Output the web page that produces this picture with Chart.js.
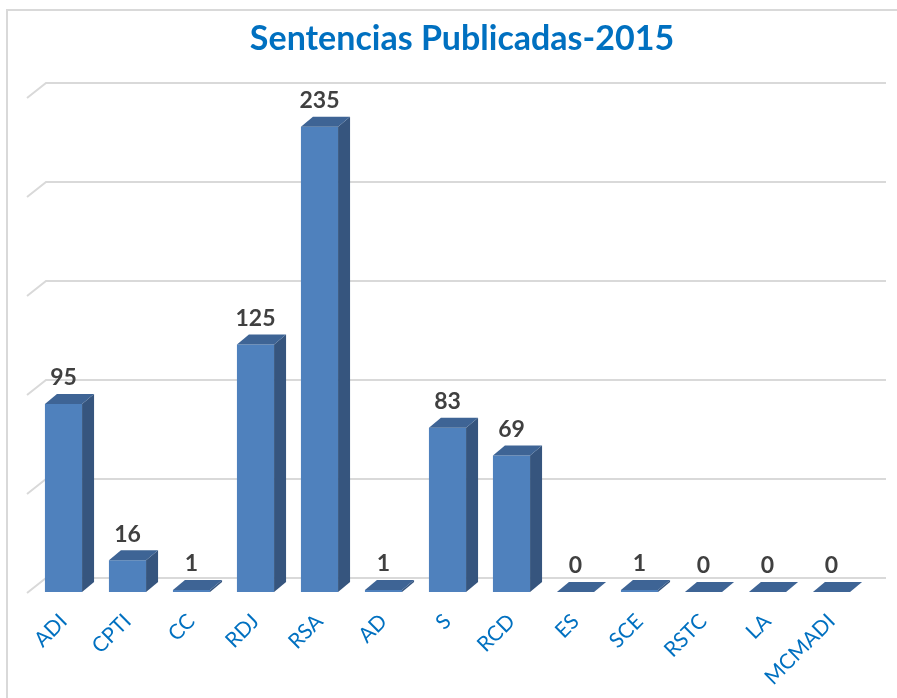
<!DOCTYPE html>
<html>
<head>
<meta charset="utf-8">
<script src="https://cdn.jsdelivr.net/npm/chart.js@4/dist/chart.umd.min.js"></script>
<style>
  html, body { margin: 0; padding: 0; background: #fff; }
  #wrap { width: 897px; height: 698px; }
</style>
</head>
<body>
<div id="wrap"><canvas id="chart" width="897" height="698"></canvas></div>
<script>
// Data
const categories = ['ADI', 'CPTI', 'CC', 'RDJ', 'RSA', 'AD', 'S', 'RCD', 'ES', 'SCE', 'RSTC', 'LA', 'MCMADI'];
const sentencias = [95, 16, 1, 125, 235, 1, 83, 69, 0, 1, 0, 0, 0];
const gridValues = [0, 50, 100, 150, 200, 250];
const chartTitle = 'Sentencias Publicadas-2015';

const frontColor = '#4F81BD';
const sideColor = '#36557E';
const topColor = '#3E6495';
const gridColor = '#D9D9D9';

// depth of the bars and of the floor
const barDx = 12, barDy = -10;
const floorDx = 19, floorDy = -14;

// Frame, title, back wall grid, 3D faces and value labels
const bars3d = {
    id: 'bars3d',
    beforeDraw(chart) {
        const ctx = chart.ctx;
        ctx.save();
        ctx.strokeStyle = gridColor;
        ctx.lineWidth = 2;
        ctx.beginPath();
        ctx.moveTo(7, 698);
        ctx.lineTo(7, 10);
        ctx.lineTo(897, 10);
        ctx.stroke();
        // title sits a bit right of centre, over the back wall
        ctx.fillStyle = '#0070C0';
        ctx.font = 'bold 34px Lato';
        ctx.textAlign = 'center';
        ctx.textBaseline = 'middle';
        ctx.fillText(chartTitle, 462, 39);
        ctx.restore();
    },
    beforeDatasetsDraw(chart) {
        const ctx = chart.ctx;
        const y = chart.scales.y;
        ctx.save();
        ctx.strokeStyle = gridColor;
        ctx.lineWidth = 2;
        gridValues.forEach(v => {
            const py = y.getPixelForValue(v);
            ctx.beginPath();
            ctx.moveTo(27, py + 1);
            ctx.lineTo(27 + floorDx, py + floorDy);
            ctx.lineTo(886, py + floorDy);
            ctx.stroke();
        });
        ctx.restore();
    },
    afterDatasetsDraw(chart) {
        const ctx = chart.ctx;
        const meta = chart.getDatasetMeta(0);
        ctx.save();
        meta.data.forEach((bar, i) => {
            const left = bar.x - bar.width / 2;
            const right = bar.x + bar.width / 2;
            const top = bar.y;
            const base = bar.base;
            // side face
            ctx.fillStyle = sideColor;
            ctx.beginPath();
            ctx.moveTo(right, top);
            ctx.lineTo(right + barDx, top + barDy);
            ctx.lineTo(right + barDx, base + barDy);
            ctx.lineTo(right, base);
            ctx.closePath();
            ctx.fill();
            // top face
            ctx.fillStyle = topColor;
            ctx.beginPath();
            ctx.moveTo(left, top);
            ctx.lineTo(left + barDx, top + barDy);
            ctx.lineTo(right + barDx, top + barDy);
            ctx.lineTo(right, top);
            ctx.closePath();
            ctx.fill();
            // value label
            ctx.fillStyle = '#404040';
            ctx.font = 'bold 23px Lato';
            ctx.textAlign = 'center';
            ctx.textBaseline = 'middle';
            ctx.fillText(String(sentencias[i]), bar.x, top - 26);
        });
        ctx.restore();
    }
};

const ctx = document.getElementById('chart').getContext('2d');
new Chart(ctx, {
    type: 'bar',
    data: {
        labels: categories,
        datasets: [{
            label: 'Sentencias',
            data: sentencias,
            backgroundColor: frontColor,
            borderWidth: 0,
            barPercentage: 0.58,
            categoryPercentage: 1
        }]
    },
    options: {
        responsive: false,
        animation: false,
        layout: {
            padding: { left: 31.5, right: 33.5, top: 97, bottom: 0 }
        },
        plugins: {
            legend: { display: false },
            tooltip: { enabled: false },
            title: { display: false }
        },
        scales: {
            x: {
                offset: true,
                grid: { display: false, drawTicks: false },
                border: { display: false },
                ticks: {
                    color: '#0070C0',
                    font: { family: 'Lato', size: 21 },
                    autoSkip: false,
                    maxRotation: 45,
                    minRotation: 45,
                    padding: 17
                },
                afterFit(scale) {
                    scale.height = 106;
                }
            },
            y: {
                display: false,
                min: 0,
                max: 250
            }
        }
    },
    plugins: [bars3d]
});
</script>
</body>
</html>
